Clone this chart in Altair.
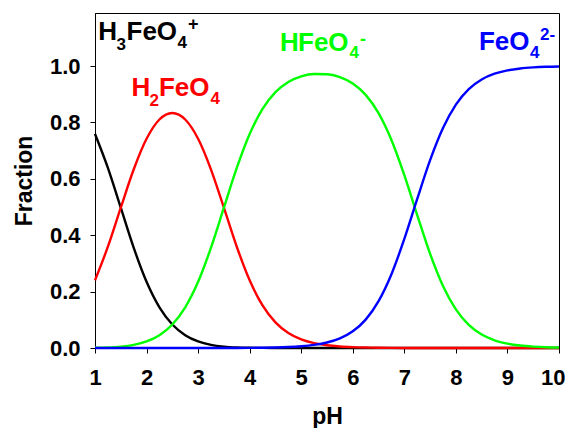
import altair as alt
import pandas as pd

# pH grid
ph = [1.00, 1.25, 1.50, 1.75, 2.00, 2.25, 2.50, 2.75, 3.00, 3.25, 3.50, 3.75,
      4.00, 4.25, 4.50, 4.75, 5.00, 5.25, 5.50, 5.75, 6.00, 6.25, 6.50, 6.75,
      7.00, 7.25, 7.50, 7.75, 8.00, 8.25, 8.50, 8.75, 9.00, 9.25, 9.50, 9.75, 10.00]

h3feo4 = [0.7592, 0.6388, 0.4975, 0.3559, 0.2346, 0.1441, 0.0833, 0.0456, 0.0235, 0.0113,
          0.0050, 0.0020, 0.0008, 0.0003, 0.0001, 0.0000, 0.0000, 0.0000, 0.0000, 0.0000,
          0.0000, 0.0000, 0.0000, 0.0000, 0.0000, 0.0000, 0.0000, 0.0000, 0.0000, 0.0000,
          0.0000, 0.0000, 0.0000, 0.0000, 0.0000, 0.0000, 0.0000]
h2feo4 = [0.2401, 0.3592, 0.4975, 0.6329, 0.7419, 0.8103, 0.8333, 0.8103, 0.7419, 0.6328,
          0.4975, 0.3591, 0.2400, 0.1508, 0.0907, 0.0531, 0.0305, 0.0173, 0.0097, 0.0054,
          0.0030, 0.0016, 0.0008, 0.0004, 0.0002, 0.0001, 0.0000, 0.0000, 0.0000, 0.0000,
          0.0000, 0.0000, 0.0000, 0.0000, 0.0000, 0.0000, 0.0000]
hfeo4 = [0.0008, 0.0020, 0.0050, 0.0113, 0.0235, 0.0456, 0.0833, 0.1441, 0.2346, 0.3559,
         0.4975, 0.6386, 0.7588, 0.8480, 0.9074, 0.9436, 0.9635, 0.9718, 0.9709, 0.9605,
         0.9379, 0.8977, 0.8330, 0.7378, 0.6130, 0.4712, 0.3339, 0.2199, 0.1368, 0.0818,
         0.0477, 0.0274, 0.0156, 0.0088, 0.0050, 0.0028, 0.0016]
feo4 = [0.0000, 0.0000, 0.0000, 0.0000, 0.0000, 0.0000, 0.0000, 0.0000, 0.0000, 0.0000,
        0.0001, 0.0002, 0.0005, 0.0010, 0.0018, 0.0033, 0.0061, 0.0109, 0.0194, 0.0341,
        0.0592, 0.1007, 0.1662, 0.2618, 0.3868, 0.5287, 0.6661, 0.7801, 0.8632, 0.9182,
        0.9523, 0.9726, 0.9844, 0.9912, 0.9950, 0.9972, 0.9984]

species = ["H3FeO4+", "H2FeO4", "HFeO4-", "FeO4 2-"]
colors = ["#000000", "#ff0000", "#00ff00", "#0000ff"]
series = [h3feo4, h2feo4, hfeo4, feo4]

# Species labels, split into pieces (normal / subscript / superscript)
lab_text = ["H", "3", "FeO", "4", "+",
            "H", "2", "FeO", "4",
            "H", "FeO", "4", "-",
            "FeO", "4", "2-"]
lab_ph = [1.062, 1.417, 1.611, 2.600, 2.804,
          1.708, 2.055, 2.241, 3.238,
          4.587, 4.938, 5.937, 6.140,
          8.447, 9.438, 9.632]
lab_frac = [1.0922, 1.0567, 1.0922, 1.0628, 1.1277,
            0.8936, 0.8592, 0.8936, 0.8642,
            1.0546, 1.0546, 1.0273, 1.0745,
            1.0582, 1.0301, 1.0922]
lab_size = [26, 17, 26, 17, 18,
            26, 17, 26, 17,
            26, 26, 17, 18,
            26, 17, 17]
lab_color = ["#000000"] * 5 + ["#ff0000"] * 4 + ["#00ff00"] * 4 + ["#0000ff"] * 3

rows = []
for name, vals in zip(species, series):
    for p, v in zip(ph, vals):
        rows.append({"pH": p, "Fraction": v, "species": name})
df = pd.DataFrame(rows)

labels = pd.DataFrame({"t": lab_text, "pH": lab_ph, "Fraction": lab_frac,
                       "size": lab_size, "color": lab_color})

xscale = alt.Scale(domain=[1, 10], nice=False, zero=False)
yscale = alt.Scale(domain=[0, 1.188], nice=False, zero=False)

xaxis = alt.Axis(values=[1, 2, 3, 4, 5, 6, 7, 8, 9, 10], format="d", title="pH",
                 labelPadding=14, titleY=75, titleBaseline="alphabetic",
                 labelFlush=True, labelFlushOffset=6, labelOverlap=False)
yaxis = alt.Axis(values=[0, 0.2, 0.4, 0.6, 0.8, 1.0], format=".1f", title="Fraction",
                 labelPadding=10, titleX=-64, titleY=167.5, titleAngle=270,
                 titleBaseline="alphabetic", labelFlush=False, labelOverlap=False)

X = alt.X("pH:Q", scale=xscale, axis=xaxis)
Y = alt.Y("Fraction:Q", scale=yscale, axis=yaxis)

base = alt.Chart(df)
layers = []
for name, col in zip(species, colors):
    layers.append(
        base.transform_filter(alt.datum.species == name)
        .mark_line(color=col, strokeWidth=2.4, interpolate="monotone")
        .encode(x=X, y=Y)
    )

text = alt.Chart(labels).mark_text(
    align="left", baseline="alphabetic", font="Liberation Sans", fontWeight="bold"
).encode(
    x=X,
    y=Y,
    text="t:N",
    size=alt.Size("size:Q", scale=None),
    color=alt.Color("color:N", scale=None),
)

chart = alt.layer(*layers, text).properties(
    width=464, height=335,
    autosize=alt.AutoSizeParams(type="none"),
    padding={"left": 87, "top": 5, "right": 6, "bottom": 80},
).configure_view(
    stroke="black", strokeWidth=1
).configure_axis(
    labelFont="Liberation Sans", labelFontWeight="bold", labelFontSize=22, labelColor="black",
    titleFont="Liberation Sans", titleFontWeight="bold", titleFontSize=23, titleColor="black",
    domainColor="black", tickColor="black", tickSize=5, grid=False,
    domainWidth=1, tickWidth=1,
)

chart.save("out.html", embed_options={"renderer": "svg", "actions": False})
